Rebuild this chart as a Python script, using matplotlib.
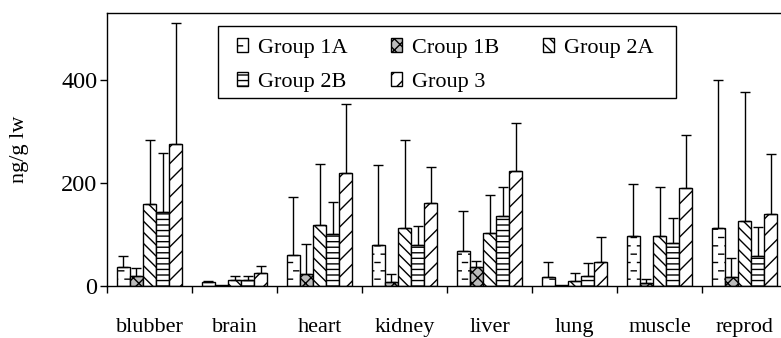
import warnings

import numpy as np
import matplotlib
matplotlib.use('Agg')
from matplotlib import pyplot as plt
from matplotlib import hatch as mhatch
from matplotlib.path import Path
from matplotlib.patches import Rectangle

warnings.filterwarnings('ignore')

tissues = ['blubber', 'brain', 'heart', 'kidney', 'liver', 'lung', 'muscle', 'reprod']
group_names = ['Group 1A', 'Croup 1B', 'Group 2A', 'Group 2B', 'Group 3']

# mean concentrations (ng/g lw), one list per group
group_1a = [37, 8, 61, 79, 67, 17, 96, 113]
group_1b = [20, 2, 24, 8, 37, 1, 6, 17]
group_2a = [159, 12, 119, 112, 103, 9, 96, 125]
group_2b = [144, 12, 100, 79, 136, 19, 84, 59]
group_3 = [275, 25, 218, 160, 223, 47, 189, 139]

# upper end of the error bars
err_top_1a = [58, 9, 173, 235, 146, 47, 198, 399]
err_top_1b = [35, 2, 81, 23, 49, 1, 14, 54]
err_top_2a = [282, 19, 236, 282, 176, 26, 191, 375]
err_top_2b = [258, 19, 163, 116, 191, 44, 132, 114]
err_top_3 = [509, 39, 352, 231, 315, 94, 293, 255]


class StaggeredDashHatch(mhatch.HatchPatternBase):
    """short horizontal dashes in staggered rows, used with the '_' hatch char"""

    def __init__(self, hatch, density):
        self.num_rows = int(hatch.count('_') * density)
        self.per_row = 8
        self.num_vertices = self.num_rows * self.per_row * 2

    def set_vertices_and_codes(self, vertices, codes):
        step = 1.0 / self.per_row
        dash = 0.05
        k = 0
        for row in range(self.num_rows):
            y = (row + 0.5) / self.num_rows
            shift = 0.0 if row % 2 == 0 else step / 2
            for j in range(self.per_row):
                x0 = j * step + shift
                vertices[k] = (x0, y)
                vertices[k + 1] = (x0 + dash, y)
                codes[k] = Path.MOVETO
                codes[k + 1] = Path.LINETO
                k += 2


mhatch._hatch_types.append(StaggeredDashHatch)

plt.rcParams.update({'font.family': ['Liberation Serif', 'DejaVu Serif'], 'font.size': 16,
                     'hatch.linewidth': 1.0, 'hatch.color': 'black', 'axes.linewidth': 1.0})

values = [group_1a, group_1b, group_2a, group_2b, group_3]
err_tops = [err_top_1a, err_top_1b, err_top_2a, err_top_2b, err_top_3]
styles = [
    {'facecolor': 'white', 'hatch': '__'},
    {'facecolor': '#bcbcbc', 'hatch': 'xxx'},
    {'facecolor': 'white', 'hatch': '\\\\\\'},
    {'facecolor': 'white', 'hatch': '---'},
    {'facecolor': 'white', 'hatch': '//'},
]

fig = plt.figure(figsize=(7.81, 3.38), dpi=100)
ax = fig.add_axes([107 / 781, 1 - 286 / 338, 680 / 781, 273 / 338])

x = np.arange(len(tissues))
bar_w = 0.153
handles = []
for i, (vals, tops, st) in enumerate(zip(values, err_tops, styles)):
    pos = x + (i - 2) * bar_w
    bars = ax.bar(pos, vals, width=bar_w, edgecolor='black', linewidth=1.0, zorder=2, **st)
    handles.append(bars)
    upper = np.array(tops) - np.array(vals)
    upper_mask = upper > 0
    ax.errorbar(pos[upper_mask], np.array(vals)[upper_mask],
                yerr=[np.zeros(upper_mask.sum()), upper[upper_mask]],
                fmt='none', ecolor='black', elinewidth=1.0, capsize=3.5, capthick=1.0, zorder=3)

ax.set_xlim(-0.5, len(tissues) - 0.5)
ax.set_ylim(0, 529)
ax.set_yticks([0, 200, 400])
ax.tick_params(axis='y', direction='out', length=5, width=1, labelsize=17.5, pad=2)
ax.set_xticks(x)
ax.set_xticklabels(tissues)
ax.set_xticks(np.arange(len(tissues) + 1) - 0.5, minor=True)
ax.tick_params(axis='x', which='major', length=0, pad=23)
ax.tick_params(axis='x', which='minor', direction='out', length=5, width=1)
ax.set_ylabel('ng/g lw', fontsize=16, labelpad=23)

# legend without its own frame; the frame is drawn a bit wider, as in the original
order = [0, 3, 1, 4, 2]
leg = ax.legend([handles[k] for k in order], [group_names[k] for k in order], ncol=3,
                loc='upper left', bbox_to_anchor=(0.191, 0.908), frameon=False,
                handlelength=0.5, handleheight=0.55, handletextpad=0.45, columnspacing=1.95,
                labelspacing=0.65, borderpad=0, borderaxespad=0)

fig.canvas.draw()
bb = leg.get_window_extent()
frame = Rectangle((bb.x0 - 19, bb.y0 - 6), bb.width + 42, bb.height + 18,
                  transform=None, fill=False, edgecolor='black', linewidth=1.0, zorder=5)
fig.add_artist(frame)

fig.savefig('out.png', dpi=100)
